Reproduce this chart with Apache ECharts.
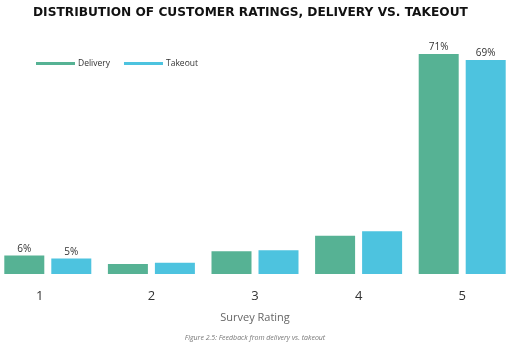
<!DOCTYPE html>
<html><head><meta charset="utf-8">
<script src="https://cdn.jsdelivr.net/npm/echarts@6/dist/echarts.min.js"></script>
<style>html,body{margin:0;padding:0;background:#fff;overflow:hidden;width:512px;height:349px;position:relative}#c{width:518px;height:349px;position:absolute;left:-4px;top:0}</style>
</head><body><div id="c"></div>
<script>
var categories = ['1', '2', '3', '4', '5'];
var delivery = [6, 3.2, 7.3, 12.3, 71];
var takeout = [5, 3.6, 7.7, 13.8, 69];
var labelled = [true, false, false, false, true];

function items(arr) {
  return arr.map(function (v, i) {
    return { value: v, label: { show: labelled[i] } };
  });
}

var catItems = categories.map(function (c, i) {
  return i === 0 ? { value: c, textStyle: { padding: [0, 16, 0, 0] } } : c;
});

var chart = echarts.init(document.getElementById('c'));
chart.setOption({
  animation: false,
  title: [
    { text: 'DISTRIBUTION OF CUSTOMER RATINGS, DELIVERY VS. TAKEOUT', left: 32, top: 2,
      textStyle: { fontFamily: 'DejaVu Sans', fontWeight: 'bold', fontSize: 12.2, color: '#111' } },
    { text: 'Figure 2.5: Feedback from delivery vs. takeout', left: 'center', top: 329,
      textStyle: { fontFamily: 'Open Sans', fontStyle: 'italic', fontWeight: 'normal', fontSize: 7, color: '#777' } }
  ],
  legend: {
    left: 40, top: 59, padding: 0, icon: 'rect', itemWidth: 39, itemHeight: 3, itemGap: 14,
    textStyle: { fontFamily: 'Open Sans', fontSize: 8.5, color: '#333', padding: [0, 0, 0, -2] },
    data: ['Delivery', 'Takeout']
  },
  grid: { left: 0, right: 0, top: 26, bottom: 75 },
  xAxis: {
    type: 'category', data: catItems,
    axisLine: { show: false }, axisTick: { show: false },
    axisLabel: { margin: 16, fontFamily: 'Open Sans', fontSize: 13, color: '#333' },
    name: 'Survey Rating', nameLocation: 'middle', nameGap: 38,
    nameTextStyle: { fontFamily: 'Open Sans', fontSize: 11, color: '#666' }
  },
  yAxis: { type: 'value', min: 0, max: 80, show: false, splitLine: { show: false } },
  series: [
    { name: 'Delivery', type: 'bar', data: items(delivery), barWidth: 40, barGap: '17.5%',
      itemStyle: { color: '#56B294' },
      label: { position: 'top', distance: 1.5, formatter: '{c}%', fontFamily: 'Open Sans', fontSize: 10, color: '#333' } },
    { name: 'Takeout', type: 'bar', data: items(takeout), barWidth: 40,
      itemStyle: { color: '#4DC3DF' },
      label: { position: 'top', distance: 1.5, formatter: '{c}%', fontFamily: 'Open Sans', fontSize: 10, color: '#333' } }
  ]
});
</script></body></html>
